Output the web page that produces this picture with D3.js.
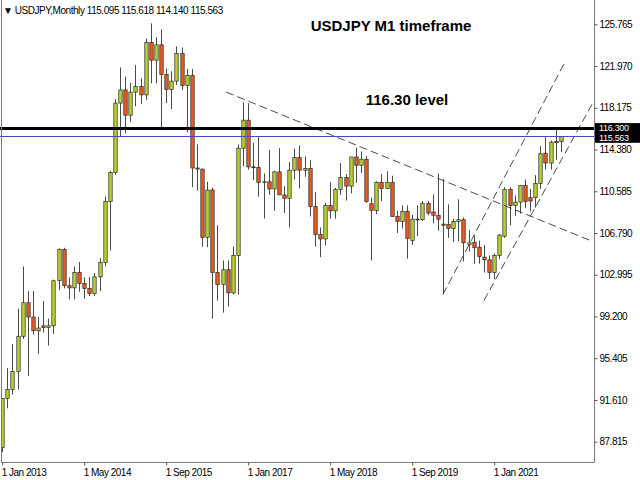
<!DOCTYPE html>
<html><head><meta charset="utf-8">
<script src="https://cdn.jsdelivr.net/npm/d3@7"></script>
<style>
html,body{margin:0;padding:0;background:#fff;}
svg{display:block;}
text{font-family:"Liberation Sans",Arial,sans-serif;}
</style></head>
<body>
<svg id="c" width="640" height="480"></svg>
<script>
// ---- data (USDJPY monthly, Jan 2013 .. Feb 2022) ----
const symbol = "USDJPY,Monthly";
const headerValues = ["115.095", "115.618", "114.140", "115.563"];
const startMonth = new Date(2013, 0, 1);
const endMonth = new Date(2022, 2, 1);
const opens = [
 87.30,91.75,92.55,94.20,97.40,100.45,99.15,97.90,98.35,98.20,98.35,102.45,
 105.30,102.00,101.80,103.20,102.20,101.75,101.30,102.80,104.10,109.65,112.30,118.60,
 119.80,117.50,119.60,120.10,119.35,124.10,122.50,123.90,121.20,119.85,120.60,123.10,
 120.20,121.10,112.70,112.60,106.40,110.70,103.20,102.10,103.45,101.35,104.75,114.50,
 117.05,112.80,112.75,111.40,111.45,110.80,112.35,110.25,109.95,112.50,113.65,112.50,
 112.65,109.20,106.65,106.25,109.30,108.80,110.75,111.85,111.05,113.70,112.95,113.50,
 109.45,108.85,111.40,110.85,111.40,108.30,107.85,108.75,106.10,108.05,108.00,109.50,
 108.70,108.40,107.60,107.55,107.20,107.85,108.00,105.75,105.95,105.50,104.60,104.35,
 103.20,104.75,106.50,110.75,109.30,109.60,111.10,110.00,110.00,111.30,114.05,113.15,
 115.10,115.095];
const highs = [
 91.80,94.50,96.70,99.90,103.75,101.50,101.50,99.15,100.60,99.00,102.55,105.40,
 105.45,102.75,103.75,104.15,102.75,102.80,103.15,104.50,110.10,112.45,118.95,121.85,
 121.00,120.45,122.05,120.85,124.45,125.85,124.60,125.30,121.75,121.50,123.75,123.65,
 121.70,121.70,114.85,112.65,111.45,110.90,107.50,104.30,104.30,105.55,114.85,118.65,
 118.60,115.00,115.50,112.20,114.35,112.45,114.50,111.05,113.25,114.45,114.75,113.75,
 113.40,110.50,107.30,109.55,111.40,110.90,113.15,112.15,113.70,114.55,114.20,113.80,
 110.00,111.50,112.15,112.40,112.00,108.80,109.30,109.30,108.45,109.30,109.70,109.70,
 110.30,112.20,111.70,109.40,108.10,109.85,108.20,107.05,106.55,106.10,105.70,104.75,
 104.95,106.70,110.95,110.95,110.20,111.10,111.65,110.80,112.05,114.70,115.50,115.20,
 116.35,115.618];
const lows = [
 86.85,90.85,92.10,92.55,97.15,93.80,97.55,95.80,97.75,96.55,97.60,101.60,
 101.75,100.75,100.75,101.45,100.80,101.05,101.05,101.50,103.75,105.20,112.10,115.55,
 115.85,116.90,118.30,118.50,118.90,120.40,120.40,116.15,118.60,118.05,120.25,119.80,
 115.95,110.95,110.65,105.55,105.50,99.00,100.65,99.55,100.10,101.20,101.20,112.85,
 112.55,111.60,110.10,108.10,110.25,108.80,110.60,108.60,107.30,111.65,110.85,111.90,
 108.30,105.55,104.60,105.65,108.10,108.10,110.25,109.75,110.40,111.35,112.25,109.55,
 104.30,108.50,109.70,110.80,108.30,106.80,107.20,104.45,105.70,106.50,107.90,108.40,
 107.65,107.00,101.20,106.35,105.95,106.05,104.20,105.10,104.00,104.00,103.20,102.60,
 102.60,104.40,106.35,107.50,108.35,108.55,109.05,108.75,109.10,110.80,112.55,112.55,
 113.45,114.140];
const closes = [
 91.75,92.55,94.20,97.40,100.45,99.15,97.90,98.15,98.20,98.35,102.45,105.30,
 102.00,101.80,103.20,102.20,101.75,101.30,102.80,104.10,109.65,112.30,118.60,119.80,
 117.50,119.60,120.10,119.35,124.10,122.50,123.90,121.20,119.85,120.60,123.10,120.20,
 121.10,112.70,112.60,106.40,110.70,103.20,102.10,103.45,101.35,104.75,114.50,117.05,
 112.80,112.75,111.40,111.45,110.80,112.35,110.25,109.95,112.50,113.65,112.50,112.65,
 109.20,106.65,106.25,109.30,108.80,110.75,111.85,111.05,113.70,112.95,113.50,109.65,
 108.85,111.40,110.85,111.40,108.30,107.85,108.75,106.30,108.05,108.00,109.50,108.60,
 108.40,108.05,107.50,107.20,107.85,108.00,105.90,105.90,105.45,104.65,104.35,103.20,
 104.75,106.60,110.75,109.30,109.60,111.10,109.65,109.70,111.30,114.00,113.15,115.05,
 115.00,115.563];
const priceTicks = [125.765,121.970,118.175,114.380,110.585,106.790,102.995,99.200,95.405,91.610,87.815];
const timeTickIdx = [0,16,32,48,64,80,96];
const levelPrice = 116.30;
const currentPrice = 115.563;
// trend lines: [barIndex1, price1, barIndex2, price2]
const trendLines = [
  [43.7, 119.60, 114.7, 106.12],
  [86.0, 101.20, 109.7, 122.24],
  [94.0, 100.65, 115.1, 118.51]
];
const titleText = "USDJPY M1 timeframe";
const levelText = "116.30 level";

// ---- drawing ----
const months = d3.timeMonth.range(startMonth, endMonth);
const svg = d3.select("#c");
const plotL = 1, plotR = 594, plotB = 462;
const step = 5.125;
const x = d3.scaleLinear().domain([0, 116]).range([2.2, 2.2 + 116 * step]);
const y = d3.scaleLinear().domain([87.815, 125.765]).range([441.7, 24.3]);

const plot = svg.append("g");
svg.append("clipPath").attr("id", "pc").append("rect")
  .attr("x", plotL).attr("y", 0).attr("width", plotR - plotL).attr("height", plotB);
const inner = plot.append("g").attr("clip-path", "url(#pc)");

// candles
const idx = d3.range(opens.length);
inner.selectAll("line.wick").data(idx).join("line")
  .attr("x1", i => Math.round(x(i)) + 0.5).attr("x2", i => Math.round(x(i)) + 0.5)
  .attr("y1", i => y(highs[i])).attr("y2", i => y(lows[i]))
  .attr("stroke", "#4a4a4a").attr("stroke-width", 1);
inner.selectAll("rect.body").data(idx).join("rect")
  .attr("x", i => Math.round(x(i)) - 1.2)
  .attr("width", 3.4)
  .attr("y", i => y(Math.max(opens[i], closes[i])))
  .attr("height", i => Math.max(0.8, Math.abs(y(opens[i]) - y(closes[i]))))
  .attr("fill", i => closes[i] >= opens[i] ? "#b8d02c" : "#ec5b1e")
  .attr("stroke", "#2a2a2a").attr("stroke-width", 0.7);

// trend lines
inner.selectAll("line.trend").data(trendLines).join("line")
  .attr("x1", d => x(d[0])).attr("y1", d => y(d[1]))
  .attr("x2", d => x(d[2])).attr("y2", d => y(d[3]))
  .attr("stroke", "#4a4a4a").attr("stroke-width", 1).attr("stroke-dasharray", "8,4");

// horizontal lines
plot.append("line").attr("x1", 0).attr("x2", plotR).attr("y1", y(currentPrice)).attr("y2", y(currentPrice))
  .attr("stroke", "#4848c4").attr("stroke-width", 1);
plot.append("line").attr("x1", 0).attr("x2", plotR + 2).attr("y1", y(levelPrice)).attr("y2", y(levelPrice))
  .attr("stroke", "#000").attr("stroke-width", 3);

// frame
svg.append("line").attr("x1", plotL + 0.5).attr("x2", plotL + 0.5).attr("y1", 0).attr("y2", plotB + 0.5).attr("stroke", "#7a7a7a");
svg.append("line").attr("x1", plotR + 0.5).attr("x2", plotR + 0.5).attr("y1", 0).attr("y2", plotB + 0.5).attr("stroke", "#7a7a7a");
svg.append("line").attr("x1", plotL).attr("x2", plotR + 0.5).attr("y1", plotB + 0.5).attr("y2", plotB + 0.5).attr("stroke", "#7a7a7a").attr("stroke-width", 1.2);

// bottom axis
const fmt = d3.timeFormat("%-d %b %Y");
const xAxis = d3.axisBottom(x).tickValues(timeTickIdx).tickFormat(i => fmt(months[i])).tickSize(3).tickPadding(3);
const gx = svg.append("g").attr("transform", `translate(0,${plotB + 0.5})`).call(xAxis);
gx.select(".domain").remove();
gx.selectAll(".tick line").attr("stroke", "#555");
gx.selectAll(".tick text").attr("text-anchor", "start").attr("x", -1)
  .attr("font-size", 10).attr("letter-spacing", "-0.5px").attr("fill", "#000")
  .attr("font-family", "'Liberation Sans',Arial,sans-serif");

// right axis
const yAxis = d3.axisRight(y).tickValues(priceTicks).tickFormat(d3.format(".3f")).tickSize(3).tickPadding(2);
const gy = svg.append("g").attr("transform", `translate(${plotR + 0.5},0)`).call(yAxis);
gy.select(".domain").remove();
gy.selectAll(".tick line").attr("stroke", "#555");
gy.selectAll(".tick text").attr("font-size", 10).attr("letter-spacing", "-0.5px").attr("fill", "#000")
  .attr("font-family", "'Liberation Sans',Arial,sans-serif");

// price label boxes (current price below, level above)
[[currentPrice, 1.2], [levelPrice, -1.2]].forEach(([p, shift]) => {
  const yy = y(p) + 0.5;
  svg.append("rect").attr("x", plotR + 1).attr("y", yy - 5.8).attr("width", 640 - plotR - 1).attr("height", 11.6).attr("fill", "#000");
  svg.append("text").attr("x", plotR + 5).attr("y", yy + shift).attr("dy", "0.36em")
    .attr("font-size", 9).attr("letter-spacing", "-0.3px").attr("fill", "#fff").text(d3.format(".3f")(p));
});

// header
svg.append("text").attr("x", 3).attr("y", 13.5).attr("font-size", 10).attr("letter-spacing", "-0.45px").attr("fill", "#000")
  .text("\u25BC " + symbol + "  " + headerValues.join(" "));

// annotations
svg.append("text").attr("x", 391).attr("y", 31).attr("text-anchor", "middle")
  .attr("font-size", 15).attr("font-weight", "bold").attr("fill", "#000").text(titleText);
svg.append("text").attr("x", 407).attr("y", 105).attr("text-anchor", "middle")
  .attr("font-size", 15).attr("font-weight", "bold").attr("fill", "#000").text(levelText);
</script>
</body></html>
